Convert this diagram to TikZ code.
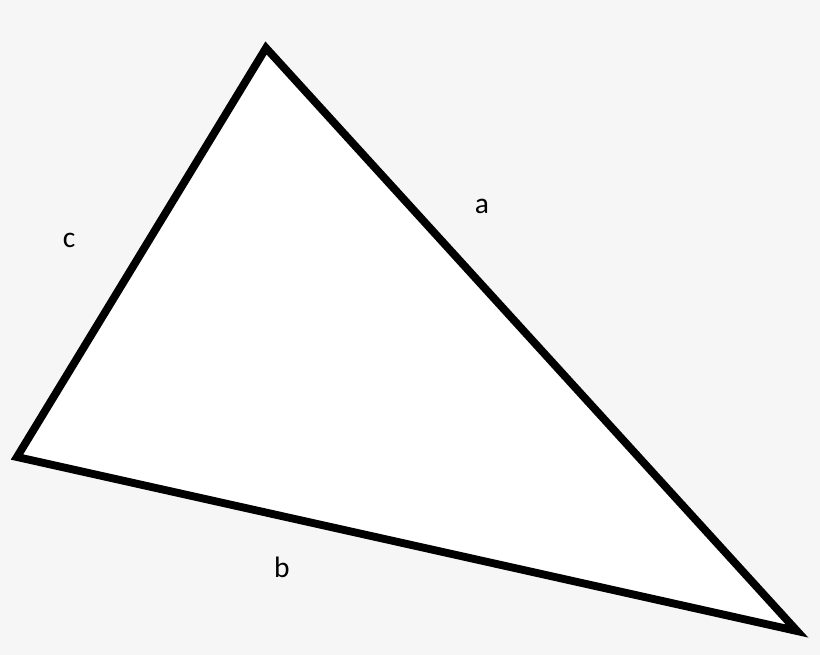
\documentclass[tikz,border=0pt]{standalone}
\usepackage{fontspec}
\setmainfont{Carlito}
\usepackage{xcolor}
\usepackage{tikz}
\definecolor{bg}{HTML}{F6F6F6}
\definecolor{ink}{HTML}{000000}
\tikzset{
  edge/.style={draw=ink, fill=white, line width=5.6pt, line join=miter, miter limit=20},
  lab/.style={text=ink, font=\fontsize{21}{24}\selectfont},
}
\begin{document}
\begin{tikzpicture}[x=0.025cm,y=-0.025cm]
  \fill[bg] (0,0) rectangle (820,655);
  \useasboundingbox (0,0) rectangle (820,655);
  \coordinate (T) at (266,48);
  \coordinate (L) at (17,457);
  \coordinate (R) at (797,631);
  \draw[edge] (T)--(L)--(R)--cycle;
  \node[lab] (a) at (482,206) {a};
  \node[lab] (b) at (282,567) {b};
  \node[lab] (c) at (69,240) {c};
\end{tikzpicture}
\end{document}
